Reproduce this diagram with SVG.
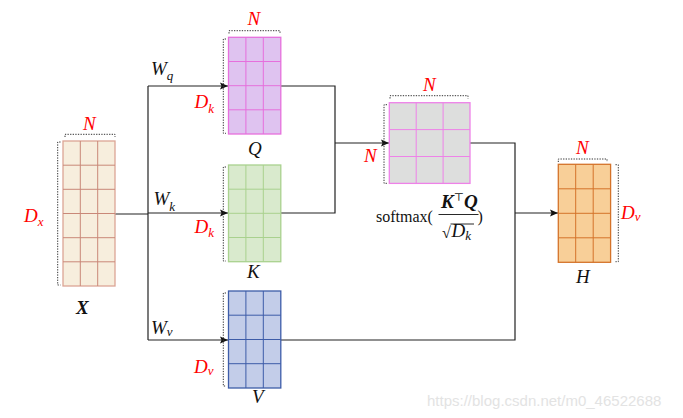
<svg xmlns="http://www.w3.org/2000/svg" width="683" height="418" viewBox="0 0 683 418">
<defs>
<marker id="arr" markerUnits="userSpaceOnUse" markerWidth="10" markerHeight="10" viewBox="0 0 10 10" refX="9" refY="5" orient="auto">
<path d="M1,1.5 L9,5 L1,8.5 L2.5,5 Z" fill="#111"/>
</marker>
</defs>
<style>
.t{font-family:"Liberation Serif","DejaVu Serif",serif;font-style:italic;font-size:19px;fill:#111}
.r{fill:#ff0000}
.b{font-weight:bold}
.sub{font-size:13px}
.br{fill:none;stroke:#333;stroke-width:1;stroke-dasharray:1.3 1.3}
.c{fill:none;stroke:#222;stroke-width:1.2}
.rm{font-family:"Liberation Serif","DejaVu Serif",serif;font-size:16px;fill:#111}
</style>
<rect width="683" height="418" fill="#fff"/>

<g id="connectors">
<path class="c" d="M115,214 H148" stroke-width="2"/>
<path class="c" d="M148,86 V340"/>
<path class="c" d="M148,86 H228" marker-end="url(#arr)"/>
<path class="c" d="M148,213 H228" marker-end="url(#arr)"/>
<path class="c" d="M148,340 H228" marker-end="url(#arr)"/>
<path class="c" d="M281,86 H335 V213 H281"/>
<path class="c" d="M335,143 H389" marker-end="url(#arr)"/>
<path class="c" d="M470,143 H515 V340 H281"/>
<path class="c" d="M515,213 H558" marker-end="url(#arr)"/>
</g>

<g id="X">
<rect x="63" y="141" width="52" height="145" fill="#f7eedd" stroke="#dca595" stroke-width="1.3"/>
<path d="M80.3,141V286M97.7,141V286M63,165.2H115M63,189.3H115M63,213.5H115M63,237.7H115M63,261.8H115" stroke="#c98878" stroke-width="1" fill="none"/>
<path class="br" d="M65,137 V134.3 H115 V137"/>
<path class="br" d="M60.5,142 H57.7 V285 H60.5"/>
<text class="t r" x="83" y="130">N</text>
<text class="t r" x="24" y="222">D<tspan class="sub" dy="4">x</tspan></text>
<text class="t b" x="76" y="314">X</text>
</g>

<g id="Q">
<rect x="228.5" y="37.3" width="52.3" height="96.7" fill="#dfc3f0" stroke="#e66fdc" stroke-width="1.3"/>
<path d="M245.9,37.3V134M263.3,37.3V134M228.5,61.5H280.8M228.5,85.7H280.8M228.5,109.8H280.8" stroke="#e66fdc" stroke-width="1" fill="none"/>
<path class="br" d="M229,33.5 V30.7 H280 V33.5"/>
<path class="br" d="M226,39 H223.3 V133.3 H226"/>
<text class="t r" x="247.5" y="25">N</text>
<text class="t" x="151" y="74.5">W<tspan class="sub" dy="5">q</tspan></text>
<text class="t r" x="194.5" y="108">D<tspan class="sub" dy="5">k</tspan></text>
<text class="t" x="248" y="155">Q</text>
</g>

<g id="K">
<rect x="228.5" y="165" width="52.3" height="96.7" fill="#d9eacd" stroke="#a9d18e" stroke-width="1.3"/>
<path d="M245.9,165V261.7M263.3,165V261.7M228.5,189.2H280.8M228.5,213.3H280.8M228.5,237.5H280.8" stroke="#a9d18e" stroke-width="1" fill="none"/>
<path class="br" d="M226,167 H223.3 V261 H226"/>
<text class="t" x="153.5" y="204.5">W<tspan class="sub" dy="6">k</tspan></text>
<text class="t r" x="194.5" y="233">D<tspan class="sub" dy="4">k</tspan></text>
<text class="t" x="247" y="278">K</text>
</g>

<g id="V">
<rect x="228.5" y="291" width="52.3" height="97" fill="#c3cde9" stroke="#3d5ca8" stroke-width="1.3"/>
<path d="M245.9,291V388M263.3,291V388M228.5,315.2H280.8M228.5,339.5H280.8M228.5,363.7H280.8" stroke="#3d5ca8" stroke-width="1" fill="none"/>
<path class="br" d="M226,293 H223.3 V386 H226"/>
<text class="t" x="151" y="333.5">W<tspan class="sub" dy="2">v</tspan></text>
<text class="t r" x="194" y="373">D<tspan class="sub" dy="2">v</tspan></text>
<text class="t" x="252" y="403">V</text>
</g>

<g id="A">
<rect x="389.3" y="102.7" width="80.7" height="80.7" fill="#dddedd" stroke="#ee82e8" stroke-width="1.3"/>
<path d="M416.2,102.7V183.4M443.1,102.7V183.4M389.3,129.6H470M389.3,156.5H470" stroke="#ee82e8" stroke-width="1" fill="none"/>
<path class="br" d="M390,98.5 V95.7 H468 V98.5"/>
<path class="br" d="M387,104.7 H384 V183.3 H387"/>
<text class="t r" x="423" y="91">N</text>
<text class="t r" x="364" y="162">N</text>
<text class="rm" x="376" y="221.5" font-size="17">softmax(</text>
<text class="t b" x="441" y="208" font-size="17">K<tspan font-style="normal" font-weight="normal" font-size="11" dy="-7">⊤</tspan><tspan dy="7">Q</tspan></text>
<line x1="438.5" y1="214.5" x2="478.5" y2="214.5" stroke="#111" stroke-width="0.9"/>
<text class="rm" x="442" y="238" font-size="17">√</text>
<line x1="450.5" y1="224" x2="474" y2="224" stroke="#111" stroke-width="0.9"/>
<text class="t" x="451.5" y="237" font-size="16">D<tspan class="sub" font-size="11" dy="3">k</tspan></text>
<text class="rm" x="477.5" y="221.5" font-size="17">)</text>
</g>

<g id="H">
<rect x="558.3" y="164.3" width="52.3" height="98" fill="#f8cf98" stroke="#d4732a" stroke-width="1.3"/>
<path d="M575.7,164.3V262.3M593.2,164.3V262.3M558.3,188.8H610.6M558.3,213.3H610.6M558.3,237.8H610.6" stroke="#d4732a" stroke-width="1" fill="none"/>
<path class="br" d="M558.3,162 V159 H607 V162"/>
<path class="br" d="M615.5,164.7 H618.3 V261.7 H615.5"/>
<text class="t r" x="576" y="154">N</text>
<text class="t r" x="621" y="218.5">D<tspan class="sub" dy="2">v</tspan></text>
<text class="t" x="576" y="283">H</text>
</g>

<text x="427" y="406" font-family="Liberation Sans, Arial, sans-serif" font-size="15" fill="#e3e3e3">https://blog.csdn.net/m0_46522688</text>
</svg>
